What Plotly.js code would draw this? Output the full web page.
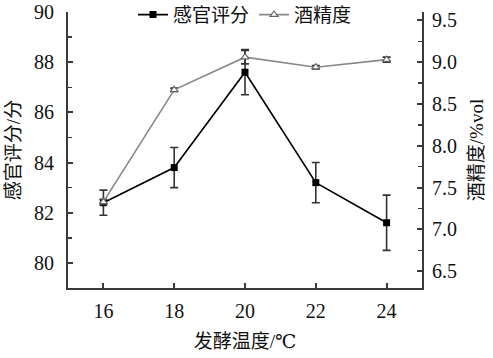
<!DOCTYPE html>
<html>
<head>
<meta charset="utf-8">
<script src="https://cdn.plot.ly/plotly-3.0.1.min.js"></script>
<style>html,body{margin:0;padding:0;background:#fff;}#chart{width:493px;height:358px;}</style>
</head>
<body>
<div id="chart"></div>
<script>
const temps = [16, 18, 20, 22, 24];
const sensory = [82.4, 83.8, 87.6, 83.2, 81.6];
const sensoryErr = [0.5, 0.8, 0.9, 0.8, 1.1];
const alcohol = [7.33, 8.67, 9.06, 8.94, 9.03];
const alcoholErr = [0.03, 0.02, 0.08, 0.02, 0.03];
const xTicks = [16, 18, 20, 22, 24];

const FONT = "'Liberation Serif', 'Times New Roman', 'DejaVu Serif', 'Noto Sans CJK SC', serif";
const AX = '#3a3a3a';
const TXT = '#111';

const traces = [
  {
    x: temps, y: sensory, name: '感官评分', type: 'scatter', mode: 'lines+markers',
    line: {color: '#000', width: 1.6},
    marker: {symbol: 'square', size: 7, color: '#000'},
    error_y: {type: 'data', array: sensoryErr, visible: true, color: '#333', thickness: 1.6, width: 4},
    yaxis: 'y'
  },
  {
    x: temps, y: alcohol, name: '酒精度', type: 'scatter', mode: 'lines+markers',
    line: {color: '#888', width: 1.6},
    marker: {symbol: 'triangle-up', size: 7, color: '#fff', line: {color: '#666', width: 1.2}},
    error_y: {type: 'data', array: alcoholErr, visible: true, color: '#333', thickness: 1.6, width: 4},
    yaxis: 'y2'
  }
];

const layout = {
  width: 493, height: 358,
  margin: {l: 68, r: 71, t: 12, b: 70, autoexpand: false},
  paper_bgcolor: '#fff', plot_bgcolor: '#fff',
  font: {family: FONT, size: 18, color: TXT},
  showlegend: true,
  legend: {orientation: 'h', x: 0.5, xanchor: 'center', y: 0.99, yanchor: 'middle',
           bgcolor: 'rgba(0,0,0,0)', font: {family: FONT, size: 19, color: TXT}},
  xaxis: {
    range: [15, 25], tickvals: xTicks, ticktext: xTicks.map(String),
    ticks: 'inside', ticklen: 5, tickwidth: 2, tickcolor: AX,
    showline: true, linecolor: AX, linewidth: 2, showgrid: false, zeroline: false,
    tickfont: {family: FONT, size: 20, color: TXT},
    ticklabelstandoff: 4,
    title: {text: '发酵温度/℃', font: {family: FONT, size: 19, color: TXT}, standoff: 14}
  },
  yaxis: {
    range: [79, 90], dtick: 2, tick0: 80,
    ticks: 'inside', ticklen: 5, tickwidth: 2, tickcolor: AX,
    minor: {dtick: 1, ticks: 'inside', ticklen: 4, tickwidth: 1.5, tickcolor: AX, showgrid: false},
    showline: true, linecolor: AX, linewidth: 2, showgrid: false, zeroline: false,
    tickfont: {family: FONT, size: 20, color: TXT},
    ticklabelstandoff: 8,
    title: {text: '感官评分/分', font: {family: FONT, size: 19, color: TXT}, standoff: 8}
  },
  yaxis2: {
    range: [6.3, 9.6], dtick: 0.5, tick0: 6.5, tickformat: '.1f',
    overlaying: 'y', side: 'right',
    ticks: 'inside', ticklen: 5, tickwidth: 2, tickcolor: AX,
    minor: {dtick: 0.25, ticks: 'inside', ticklen: 4, tickwidth: 1.5, tickcolor: AX, showgrid: false},
    showline: true, linecolor: AX, linewidth: 2, showgrid: false, zeroline: false,
    tickfont: {family: FONT, size: 20, color: TXT},
    ticklabelstandoff: 4,
    title: {text: '酒精度/%vol', font: {family: FONT, size: 19, color: TXT}, standoff: 14}
  }
};

Plotly.newPlot('chart', traces, layout, {staticPlot: true, displayModeBar: false});
</script>
</body>
</html>
